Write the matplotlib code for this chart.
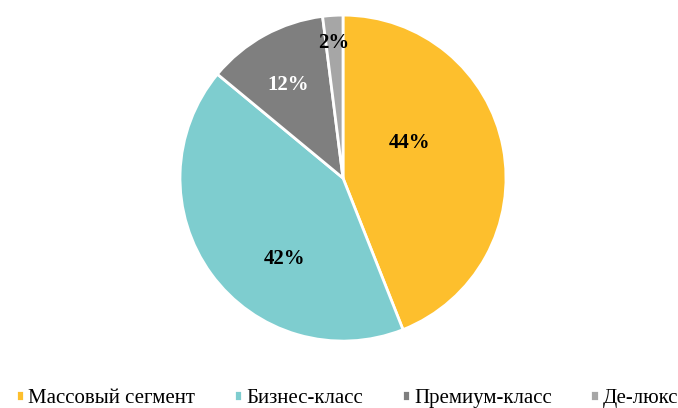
import matplotlib
matplotlib.use("Agg")
import matplotlib.pyplot as plt
import numpy as np

categories = ["Массовый сегмент", "Бизнес-класс", "Премиум-класс", "Де-люкс"]
shares = [44, 42, 12, 2]
colors = ["#FDBF2D", "#7ECDCF", "#7F7F7F", "#A6A6A6"]
label_colors = ["black", "black", "white", "black"]
# label placement (angle in degrees, distance as fraction of radius)
label_pos = [(27.6, 0.46), (234.0, 0.61), (120.6, 0.66), (94.0, 0.83)]

plt.rcParams["font.family"] = ["Liberation Serif", "DejaVu Serif"]

fig = plt.figure(figsize=(6.78, 4.08), dpi=100)
ax = fig.add_axes([0.2655, 0.164, 0.4808, 0.799])
wedges, _ = ax.pie(shares, colors=colors, startangle=90, counterclock=False,
                   radius=1.0, wedgeprops=dict(edgecolor="white", linewidth=2))
ax.set_xlim(-1, 1)
ax.set_ylim(-1, 1)
ax.set_aspect("equal")

for v, c, (ang, d) in zip(shares, label_colors, label_pos):
    a = np.deg2rad(ang)
    ax.text(d * np.cos(a), d * np.sin(a), f"{v}%", ha="center", va="center",
            fontsize=15, fontweight="bold", color=c)

fig.legend(wedges, categories, loc="center", bbox_to_anchor=(0.512, 0.024),
           ncol=4, frameon=False, fontsize=15, handlelength=0.4,
           handleheight=0.4, handletextpad=0.2, columnspacing=1.85)

fig.savefig("out.png", dpi=100)
